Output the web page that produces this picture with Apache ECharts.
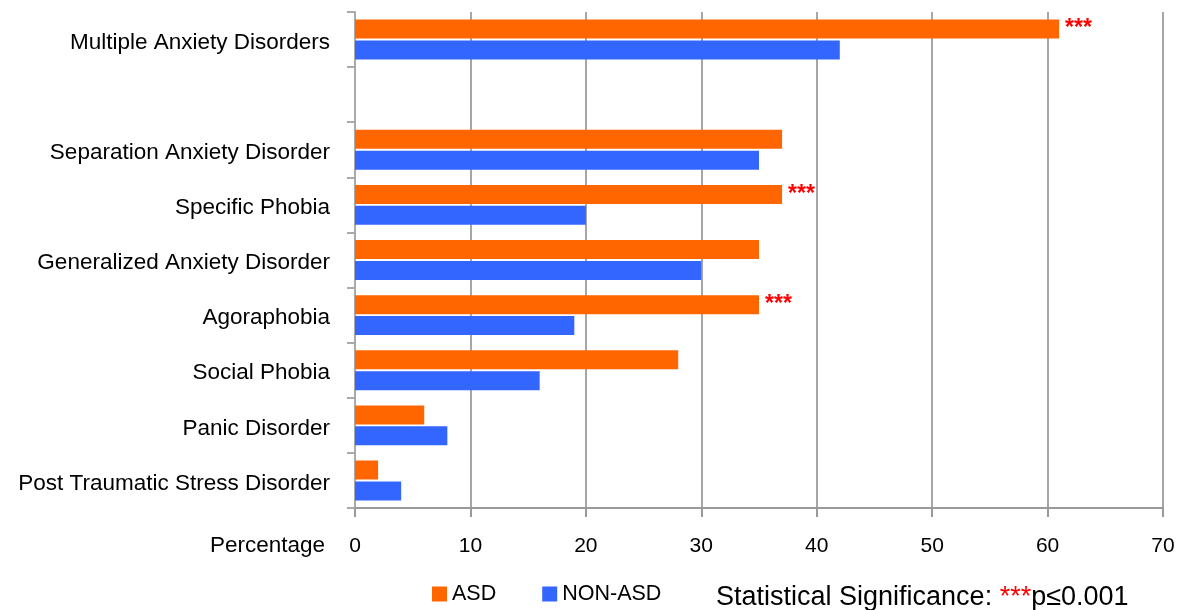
<!DOCTYPE html>
<html>
<head>
<meta charset="utf-8">
<script src="https://cdn.jsdelivr.net/npm/echarts@6/dist/echarts.min.js"></script>
<style>
  html, body { margin:0; padding:0; background:#fff; }
  #main { width:1180px; height:610px; }
</style>
</head>
<body>
<div id="main"></div>
<script>
// categories top to bottom, '' is the empty spacer row
var categories = ['Multiple Anxiety Disorders', '', 'Separation Anxiety Disorder', 'Specific Phobia',
  'Generalized Anxiety Disorder', 'Agoraphobia', 'Social Phobia', 'Panic Disorder', 'Post Traumatic Stress Disorder'];
var asdValues = [61, null, 37, 37, 35, 35, 28, 6, 2];
var nonAsdValues = [42, null, 35, 20, 30, 19, 16, 8, 4];
var asdSignificant = [true, false, false, true, false, true, false, false, false];
var xTicks = [0, 10, 20, 30, 40, 50, 60, 70];

var myChart = echarts.init(document.getElementById('main'));
var fontFam = '"Liberation Sans", Arial, sans-serif';

var option = {
    animation: false,
    textStyle: { fontFamily: fontFam },
    grid: { left: 355, right: 17, top: 12, bottom: 102, outerBoundsMode: 'none', containLabel: false },
    legend: {
        data: ['ASD', 'NON-ASD'],
        left: 427, top: 578,
        icon: 'rect', itemWidth: 15, itemHeight: 15, itemGap: 46,
        textStyle: { fontSize: 21.5, color: '#000', fontFamily: fontFam }
    },
    xAxis: {
        type: 'value',
        min: xTicks[0], max: xTicks[xTicks.length - 1], interval: 10,
        axisLine: { show: true, lineStyle: { color: '#999', width: 2 } },
        axisTick: { show: true, length: 9, lineStyle: { color: '#999', width: 2 } },
        axisLabel: { fontSize: 21, color: '#000', margin: 28 },
        splitLine: { show: true, lineStyle: { color: '#888', width: 1.5 } }
    },
    yAxis: {
        type: 'category',
        data: categories,
        inverse: true,
        axisLine: { show: true, lineStyle: { color: '#aaa', width: 2 } },
        axisTick: { show: true, length: 8, lineStyle: { color: '#aaa', width: 2 } },
        axisLabel: { fontSize: 22.5, color: '#000', margin: 25, verticalAlign: 'top', lineHeight: 6 }
    },
    graphic: [
        { type: 'text', right: 855, top: 534, style: { text: 'Percentage', fontSize: 22.5, fill: '#000', fontFamily: fontFam } },
        { type: 'text', left: 716, top: 584, style: {
            text: '{t|Statistical Significance: }{r|***}{t|p≤0.001}',
            fontFamily: fontFam,
            rich: {
                t: { fontSize: 27, fill: '#000', fontFamily: fontFam },
                r: { fontSize: 27, fill: '#ff0000', fontFamily: fontFam }
            }
        } }
    ],
    series: [
        {
            name: 'ASD', type: 'bar', data: asdValues,
            barWidth: 19, barGap: '10%',
            itemStyle: { color: '#ff6600' },
            label: {
                show: true, position: 'right', distance: 6,
                color: '#ff0000', fontSize: 23, fontWeight: 'bold',
                formatter: function (p) { return asdSignificant[p.dataIndex] ? '***' : ''; }
            }
        },
        {
            name: 'NON-ASD', type: 'bar', data: nonAsdValues,
            barWidth: 19,
            itemStyle: { color: '#3366ff' }
        }
    ]
};
myChart.setOption(option);
</script>
</body>
</html>
